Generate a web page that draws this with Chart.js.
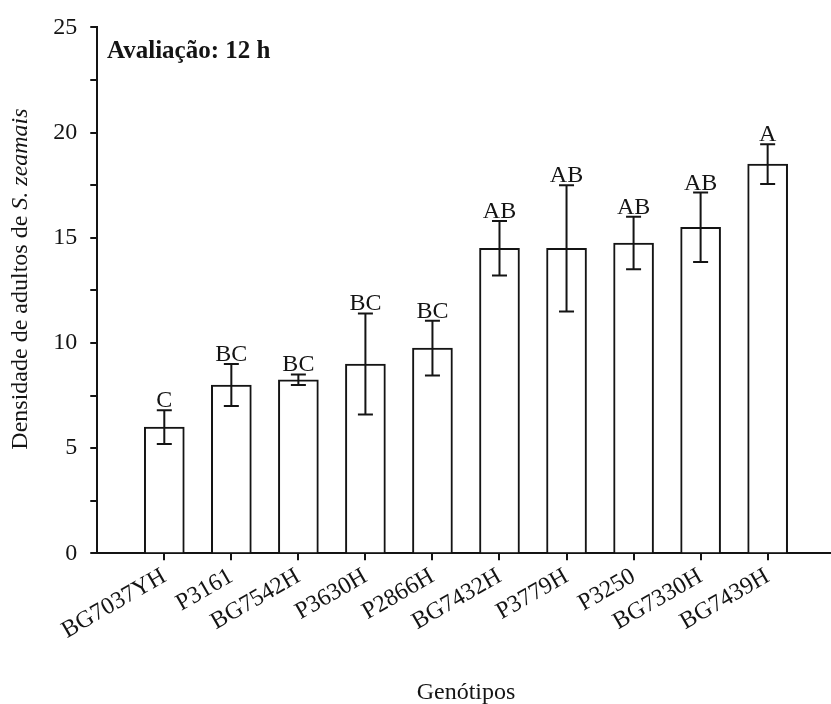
<!DOCTYPE html>
<html>
<head>
<meta charset="utf-8">
<script src="https://cdn.jsdelivr.net/npm/chart.js@4"></script>
<style>
html,body{margin:0;padding:0;background:#fff;overflow:hidden;}
canvas{display:block;}
.pre{position:absolute;left:-9999px;top:0;font-size:24px;}
</style>
</head>
<body>
<span class="pre" style="font-family:'Liberation Serif'">Aa Genótipos</span>
<span class="pre" style="font-family:'Liberation Serif';font-style:italic">S. zeamais</span>
<span class="pre" style="font-family:'Liberation Serif';font-weight:bold">Avaliação</span>
<canvas id="c" width="831" height="704"></canvas>
<script>
const categories = ['BG7037YH','P3161','BG7542H','P3630H','P2866H','BG7432H','P3779H','P3250','BG7330H','BG7439H'];
const means = [6.0, 8.0, 8.25, 9.0, 9.75, 14.5, 14.5, 14.75, 15.5, 18.5];
const errors = [0.8, 1.0, 0.25, 2.4, 1.3, 1.3, 3.0, 1.25, 1.65, 0.95];
const letters = ['C','BC','BC','BC','BC','AB','AB','AB','AB','A'];
const yTicks = [0, 5, 10, 15, 20, 25];

const INK = '#141414';
const SERIF = '"Liberation Serif"';

const overlay = {
  id: 'overlay',
  afterDatasetsDraw(chart) {
    const ctx = chart.ctx;
    const xs = chart.scales.x, ys = chart.scales.y;
    ctx.save();
    ctx.strokeStyle = INK;
    ctx.lineWidth = 2;
    ctx.fillStyle = INK;
    ctx.font = '24px ' + SERIF;
    ctx.textAlign = 'center';
    ctx.textBaseline = 'alphabetic';
    means.forEach((m, i) => {
      const x = xs.getPixelForValue(i + 1);
      const yt = ys.getPixelForValue(m + errors[i]);
      const yb = ys.getPixelForValue(m - errors[i]);
      ctx.beginPath();
      ctx.moveTo(x, yt); ctx.lineTo(x, yb);
      ctx.moveTo(x - 7.5, yt); ctx.lineTo(x + 7.5, yt);
      ctx.moveTo(x - 7.5, yb); ctx.lineTo(x + 7.5, yb);
      ctx.stroke();
      ctx.fillText(letters[i], x, yt - 3);
    });
    ctx.textAlign = 'left';
    ctx.font = 'bold 25px ' + SERIF;
    ctx.fillText('Avaliação: 12 h', 107, 58);
    ctx.textAlign = 'center';
    ctx.font = '24px ' + SERIF;
    ctx.fillText('Genótipos', 466, 699);
    const p1 = 'Densidade de adultos de ';
    const p2 = 'S. zeamais';
    ctx.font = '24px ' + SERIF;
    const w1 = ctx.measureText(p1).width;
    ctx.font = 'italic 24px ' + SERIF;
    const w2 = ctx.measureText(p2).width;
    const total = w1 + w2;
    ctx.translate(27, 279);
    ctx.rotate(-Math.PI / 2);
    ctx.textAlign = 'left';
    ctx.font = '24px ' + SERIF;
    ctx.fillText(p1, -total / 2, 0);
    ctx.font = 'italic 24px ' + SERIF;
    ctx.fillText(p2, -total / 2 + w1, 0);
    ctx.restore();
  }
};

function build() {
  new Chart(document.getElementById('c'), {
    type: 'bar',
    data: {
      datasets: [{
        data: means.map((v, i) => ({x: i + 1, y: v})),
        backgroundColor: '#ffffff',
        borderColor: INK,
        borderWidth: 2,
        barThickness: 40
      }]
    },
    options: {
      responsive: false,
      animation: false,
      devicePixelRatio: 1,
      layout: {padding: {top: 25, left: 0, right: 0, bottom: 0}},
      plugins: {legend: {display: false}, tooltip: {enabled: false}},
      scales: {
        x: {
          type: 'linear',
          position: 'bottom',
          offset: false,
          min: 0,
          max: 10.945,
          afterFit(s) { s.height = 150.7; },
          afterBuildTicks(s) {
            s.ticks = categories.map((c, i) => ({value: i + 1}));
          },
          ticks: {
            autoSkip: false,
            minRotation: 30,
            maxRotation: 30,
            padding: 2,
            color: INK,
            font: {family: SERIF, size: 24},
            callback: (v) => categories[v - 1] || ''
          },
          grid: {offset: false, drawOnChartArea: false, drawTicks: true, tickLength: 7, color: INK, lineWidth: 2},
          border: {display: true, color: INK, width: 2}
        },
        y: {
          min: 0,
          max: 25,
          afterFit(s) { s.width = 97.26; },
          afterBuildTicks(s) {
            const t = [];
            for (let v = 0; v <= 25; v += 2.5) t.push({value: v});
            s.ticks = t;
          },
          ticks: {
            padding: 13,
            color: INK,
            font: {family: SERIF, size: 24},
            callback: (v) => yTicks.includes(v) ? String(v) : ''
          },
          grid: {drawOnChartArea: false, drawTicks: true, tickLength: 7, color: INK, lineWidth: 2},
          border: {display: true, color: INK, width: 2}
        }
      }
    },
    plugins: [overlay]
  });
}

Promise.all([
  document.fonts.load('24px "Liberation Serif"'),
  document.fonts.load('italic 24px "Liberation Serif"'),
  document.fonts.load('bold 25px "Liberation Serif"')
]).catch(() => {}).then(build);
</script>
</body>
</html>
